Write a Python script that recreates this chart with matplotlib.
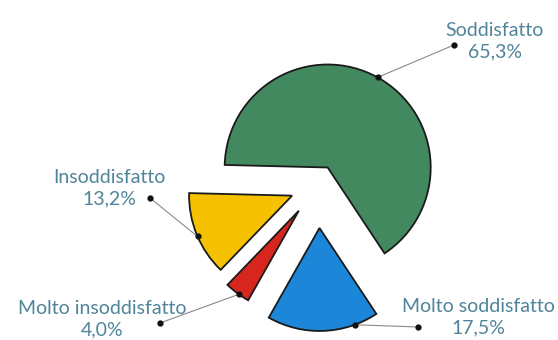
import numpy as np
import matplotlib.pyplot as plt

# Data
labels = ['Soddisfatto', 'Insoddisfatto', 'Molto insoddisfatto', 'Molto soddisfatto']
values = [65.3, 13.2, 4.0, 17.5]
value_text = ['65,3%', '13,2%', '4,0%', '17,5%']
colors = ['#43895f', '#f6c100', '#d7261e', '#1c87d9']

# Layout (pixel-like data units)
explode = [20, 28, 32, 43]
label_pos = [(495, 299), (109, 152), (102, 21), (478, 23)]
dot_pos = [(454, 295), (150, 142), (160, 17), (418, 13)]
anchor_shift = [0, 1, 1, 18]

fig = plt.figure(figsize=(5.58, 3.4), dpi=100)
ax = fig.add_axes([0, 0, 1, 1])

wedges, _ = ax.pie(values, explode=explode, colors=colors, startangle=-56.5,
                   counterclock=True, center=(318, 155), radius=103,
                   wedgeprops=dict(edgecolor='#1a1a1a', linewidth=1.3))

ax.set_xlim(0, 558)
ax.set_ylim(0, 340)
ax.set_aspect('equal')
ax.axis('off')

txt_color = '#4f849b'
for w, lab, val, (lx, ly), (dx, dy), sh in zip(wedges, labels, value_text,
                                              label_pos, dot_pos, anchor_shift):
    ang = np.deg2rad((w.theta1 + w.theta2) / 2 + sh)
    cx, cy = w.center
    ax_ = cx + w.r * np.cos(ang)
    ay_ = cy + w.r * np.sin(ang)
    ax.plot([ax_, dx], [ay_, dy], color='#8a8a8a', lw=0.8, zorder=3)
    ax.plot([ax_, dx], [ay_, dy], 'o', color='#111111', ms=3.5, zorder=4)
    ax.text(lx, ly, lab + '\n' + val, ha='center', va='center', multialignment='center',
            fontsize=14, family='Lato', color=txt_color, linespacing=1.3)

fig.savefig('out.png', dpi=100)
